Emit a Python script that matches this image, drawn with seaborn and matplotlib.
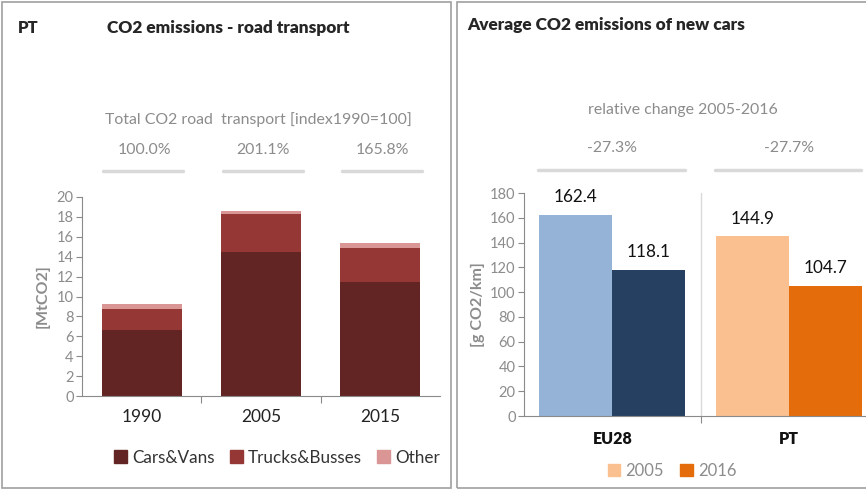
import numpy as np
import matplotlib
matplotlib.use('Agg')
import matplotlib.pyplot as plt
import matplotlib.transforms as mtransforms
from matplotlib.patches import Rectangle, Patch
from matplotlib.lines import Line2D
import seaborn as sns

################################################################
# data:
years = ['1990', '2005', '2015']
cars_vans = [6.6, 14.5, 11.45]
trucks_busses = [2.1, 3.8, 3.45]
other = [0.55, 0.3, 0.44]
index_labels = ['100.0%', '201.1%', '165.8%']

regions = ['EU28', 'PT']
new_cars_2005 = [162.4, 144.9]
new_cars_2016 = [118.1, 104.7]
rel_change = ['-27.3%', '-27.7%']

################################################################
# style:
sns.set_style('white')
plt.rcParams['font.family'] = ['Lato', 'DejaVu Sans']

W, H = 866, 490
fig = plt.figure(figsize=(W / 100, H / 100), dpi=100)


def fx(x):
    return x / W


def fy(y):
    return 1 - y / H


gray_txt = '#8c8c8c'
spine_col = '#8a8a8a'
line_col = '#d9d9d9'

# panel frames
fig.add_artist(Rectangle((fx(2), fy(488)), fx(451) - fx(2), fy(2) - fy(488),
                         transform=fig.transFigure, fill=False, ec='#a0a0a0', lw=1.2))
fig.add_artist(Rectangle((fx(457), fy(488)), fx(880) - fx(457), fy(2) - fy(488),
                         transform=fig.transFigure, fill=False, ec='#a0a0a0', lw=1.2))

################################################################
# left panel: stacked bars
ax1 = fig.add_axes([fx(82), fy(396), fx(440) - fx(82), fy(197) - fy(396)])
c_cars, c_trucks, c_other = '#632523', '#953735', '#d99694'
bottom2 = np.array(cars_vans)
bottom3 = bottom2 + np.array(trucks_busses)
sns.barplot(x=years, y=cars_vans, ax=ax1, color=c_cars, width=0.67, saturation=1,
            linewidth=0)
sns.barplot(x=years, y=trucks_busses, ax=ax1, color=c_trucks, width=0.67, saturation=1,
            bottom=bottom2, linewidth=0)
sns.barplot(x=years, y=other, ax=ax1, color=c_other, width=0.67, saturation=1,
            bottom=bottom3, linewidth=0)
ax1.set_xlim(-0.5, 2.5)
ax1.set_ylim(0, 20)
ax1.set_yticks(range(0, 21, 2))
ax1.set_xticks([0.5, 1.5], minor=False)
ax1.set_xticks([0, 1, 2], minor=True)
ax1.set_xticklabels(['', ''])
ax1.set_xticklabels(years, minor=True)
ax1.tick_params(axis='x', which='major', length=5, color=spine_col, direction='out', bottom=True)
ax1.tick_params(axis='x', which='minor', length=0, labelsize=12.5, labelcolor='#222222', pad=9)
ax1.tick_params(axis='y', length=4, color=spine_col, direction='out', left=True,
                labelsize=10.5, labelcolor=gray_txt, pad=2)
for s in ['top', 'right']:
    ax1.spines[s].set_visible(False)
for s in ['left', 'bottom']:
    ax1.spines[s].set_color(spine_col)
ax1.set_ylabel('[MtCO2]', color=gray_txt, fontsize=11.5, fontweight='bold', labelpad=5)
ax1.set_xlabel('')

ax1.legend(handles=[Patch(color=c_cars, label='Cars&Vans'),
                    Patch(color=c_trucks, label='Trucks&Busses'),
                    Patch(color=c_other, label='Other')],
           loc='center', bbox_to_anchor=(0.545, -0.31), ncol=3, frameon=False,
           fontsize=12.3, handlelength=0.75, handleheight=0.75, handletextpad=0.3,
           columnspacing=0.9, labelcolor='#333333')

fig.text(fx(18), fy(28), 'PT', fontsize=12, fontweight='heavy', va='center')
fig.text(fx(107), fy(28), 'CO2 emissions - road transport', fontsize=12.4,
         fontweight='heavy', va='center')
fig.text(fx(258), fy(120), 'Total CO2 road  transport [index1990=100]', fontsize=11.4,
         color=gray_txt, ha='center', va='center')
tr1 = mtransforms.blended_transform_factory(ax1.transData, fig.transFigure)
for i, lab in enumerate(index_labels):
    fig.text(i + 0.02, fy(150), lab, transform=tr1, fontsize=11.4, color=gray_txt,
             ha='center', va='center')
    fig.add_artist(Line2D([i - 0.32, i + 0.35], [fy(171), fy(171)], transform=tr1,
                          color=line_col, lw=2.5))

################################################################
# right panel: grouped bars
ax2 = fig.add_axes([fx(524), fy(416), fx(877) - fx(524), fy(193) - fy(416)])
sns.barplot(x=regions * 2, y=new_cars_2005 + new_cars_2016,
            hue=['2005'] * 2 + ['2016'] * 2, ax=ax2, width=0.83, saturation=1,
            legend=False, palette=['#fac090', '#e46c0a'], linewidth=0)
bar_cols = ['#95b3d7', '#fac090', '#254061', '#e46c0a']
for p, c in zip(ax2.patches, bar_cols):
    p.set_facecolor(c)
    ax2.text(p.get_x() + p.get_width() / 2, p.get_height() + 8,
             f'{p.get_height():.1f}', ha='center', va='bottom', fontsize=12.3,
             color='#111111')
ax2.set_xlim(-0.5, 1.5)
ax2.set_ylim(0, 180)
ax2.set_yticks(range(0, 181, 20))
ax2.set_xticks([0.5], minor=False)
ax2.set_xticklabels([''])
ax2.set_xticks([0, 1], minor=True)
ax2.set_xticklabels(regions, minor=True, fontweight='heavy')
ax2.axvline(0.5, color='#d9d9d9', lw=1, zorder=0)
ax2.tick_params(axis='x', which='major', length=5, color=spine_col, direction='out', bottom=True)
ax2.tick_params(axis='x', which='minor', length=0, labelsize=11.5, labelcolor='#111111', pad=11)
ax2.tick_params(axis='y', length=4, color=spine_col, direction='out', left=True,
                labelsize=10.5, labelcolor=gray_txt, pad=2)
for s in ['top', 'right']:
    ax2.spines[s].set_visible(False)
for s in ['left', 'bottom']:
    ax2.spines[s].set_color(spine_col)
ax2.set_ylabel('[g CO2/km]', color=gray_txt, fontsize=11.5, fontweight='bold', labelpad=4)
ax2.set_xlabel('')

ax2.legend(handles=[Patch(color='#fac090', label='2005'),
                    Patch(color='#e46c0a', label='2016')],
           loc='center', bbox_to_anchor=(fx(672), fy(471)),
           bbox_transform=fig.transFigure, ncol=2, frameon=False, fontsize=12,
           handlelength=0.75, handleheight=0.75, handletextpad=0.3, columnspacing=1.0,
           labelcolor=gray_txt)

fig.text(fx(467), fy(25), 'Average CO2 emissions of new cars', fontsize=12.4,
         fontweight='heavy', va='center')
fig.text(fx(683), fy(110), 'relative change 2005-2016', fontsize=11.4,
         color=gray_txt, ha='center', va='center')
tr2 = mtransforms.blended_transform_factory(ax2.transData, fig.transFigure)
for i, lab in enumerate(rel_change):
    fig.text(i, fy(148), lab, transform=tr2, fontsize=11.4, color=gray_txt,
             ha='center', va='center')
    fig.add_artist(Line2D([i - 0.42, i + 0.41], [fy(170), fy(170)], transform=tr2,
                          color=line_col, lw=2.5))

fig.savefig('out.png', dpi=100)
